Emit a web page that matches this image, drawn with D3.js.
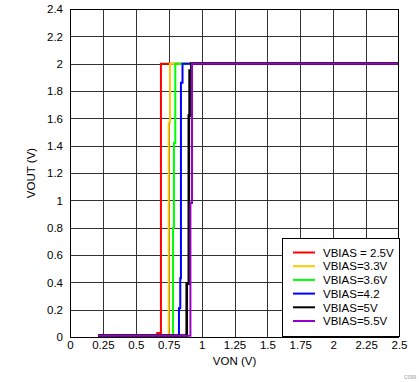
<!DOCTYPE html>
<html><head><meta charset="utf-8">
<script src="https://cdn.jsdelivr.net/npm/d3@7"></script>
<style>body{margin:0;background:#fff}svg{display:block}text{font-family:"Liberation Sans",Arial,sans-serif}</style>
</head><body><svg id="c" width="419" height="382"></svg>
<script>
const xTicks = [0,0.25,0.5,0.75,1,1.25,1.5,1.75,2,2.25,2.5];
const xTickLabels = ["0","0.25","0.5","0.75","1","1.25","1.5","1.75","2","2.25","2.5"];
const yTicks = [0,0.2,0.4,0.6,0.8,1,1.2,1.4,1.6,1.8,2,2.2,2.4];
const yTickLabels = ["0","0.2","0.4","0.6","0.8","1","1.2","1.4","1.6","1.8","2","2.2","2.4"];
const seriesNames = ["VBIAS = 2.5V","VBIAS=3.3V","VBIAS=3.6V","VBIAS=4.2","VBIAS=5V","VBIAS=5.5V"];
const seriesColors = ["#ff0000","#ffcc00","#00ff00","#0000ff","#000000","#9900cc"];
// VON (V) points of each curve
const vonRed    = [0.213,0.663,0.663,0.691,0.691,2.5];
const voutRed   = [0.01,0.01,0.03,0.03,2,2];
const vonYellow = [0.213,0.750,0.750,0.760,0.760,2.5];
const voutYellow= [0.01,0.01,1.57,1.57,2,2];
const vonGreen  = [0.213,0.783,0.783,0.790,0.790,0.800,0.800,2.5];
const voutGreen = [0.01,0.01,0.80,0.80,1.42,1.42,2,2];
const vonBlue   = [0.213,0.828,0.828,0.838,0.838,0.843,0.843,0.855,0.855,2.5];
const voutBlue  = [0.01,0.01,0.21,0.21,0.43,0.43,1.86,1.86,2,2];
const vonBlack  = [0.213,0.887,0.887,0.903,0.903,0.909,0.909,0.922,0.922,2.5];
const voutBlack = [0.01,0.01,0.39,0.39,1.62,1.62,1.95,1.95,2,2];
const vonPurple = [0.213,0.915,0.915,0.927,0.927,2.5];
const voutPurple= [0.01,0.01,0.98,0.98,2,2];

const xs = [vonRed,vonYellow,vonGreen,vonBlue,vonBlack,vonPurple];
const ys = [voutRed,voutYellow,voutGreen,voutBlue,voutBlack,voutPurple];

const svg = d3.select("#c");
const L=70, R=399, T=9, B=337;
const x = d3.scaleLinear().domain([0,2.5]).range([L,R]);
const y = d3.scaleLinear().domain([0,2.4]).range([B,T]);
const FS = 11.5;

// grid
svg.append("g").selectAll("line").data(xTicks.slice(1,-1)).join("line")
  .attr("x1",d=>Math.round(x(d))+0.5).attr("x2",d=>Math.round(x(d))+0.5).attr("y1",T).attr("y2",B)
  .attr("stroke","#333").attr("stroke-width",1);
svg.append("g").selectAll("line").data(yTicks.slice(1,-1)).join("line")
  .attr("y1",d=>Math.round(y(d))+0.5).attr("y2",d=>Math.round(y(d))+0.5).attr("x1",L).attr("x2",R)
  .attr("stroke","#333").attr("stroke-width",1);

// axes
const xAxis = d3.axisBottom(x).tickValues(xTicks).tickFormat((d,i)=>xTickLabels[i]).tickSize(0).tickPadding(4);
const gx = svg.append("g").attr("transform",`translate(0,${B})`).call(xAxis);
gx.select(".domain").remove();
gx.selectAll("text").attr("font-size",FS).attr("fill","#000").attr("font-family","Liberation Sans, Arial, sans-serif");
const yAxis = d3.axisLeft(y).tickValues(yTicks).tickFormat((d,i)=>yTickLabels[i]).tickSize(0).tickPadding(7);
const gy = svg.append("g").attr("transform",`translate(${L},0)`).call(yAxis);
gy.select(".domain").remove();
gy.selectAll("text").attr("font-size",FS).attr("fill","#000").attr("font-family","Liberation Sans, Arial, sans-serif");

// curves
const line = d3.line().x(d=>x(d[0])).y(d=>y(d[1]));
xs.forEach((vx,i)=>{
  const pts = vx.map((v,j)=>[v,ys[i][j]]);
  svg.append("path").datum(pts).attr("d",line).attr("fill","none")
    .attr("stroke",seriesColors[i]).attr("stroke-width",i===4?2.6:2);
});

// frame
svg.append("rect").attr("x",L+0.5).attr("y",T+0.5).attr("width",R-L-1).attr("height",B-T)
  .attr("fill","none").attr("stroke","#000").attr("stroke-width",1);

// axis titles
svg.append("text").attr("x",(L+R)/2).attr("y",365).attr("text-anchor","middle").attr("font-size",FS).text("VON (V)");
svg.append("text").attr("transform",`translate(35,${(T+B)/2}) rotate(-90)`).attr("text-anchor","middle").attr("font-size",FS).text("VOUT (V)");
svg.append("text").attr("x",416).attr("y",379).attr("text-anchor","end").attr("font-size",5).attr("fill","#999").text("C099");

// legend
const lg = svg.append("g");
lg.append("rect").attr("x",282.5).attr("y",238.5).attr("width",117).attr("height",98).attr("fill","#fff").attr("stroke","#000");
seriesNames.forEach((n,i)=>{
  const yy = 252.5 + i*13.7;
  lg.append("line").attr("x1",293).attr("x2",315).attr("y1",yy).attr("y2",yy).attr("stroke",seriesColors[i]).attr("stroke-width",2);
  lg.append("text").attr("x",323).attr("y",yy+4.2).attr("font-size",FS).text(n);
});
</script></body></html>
